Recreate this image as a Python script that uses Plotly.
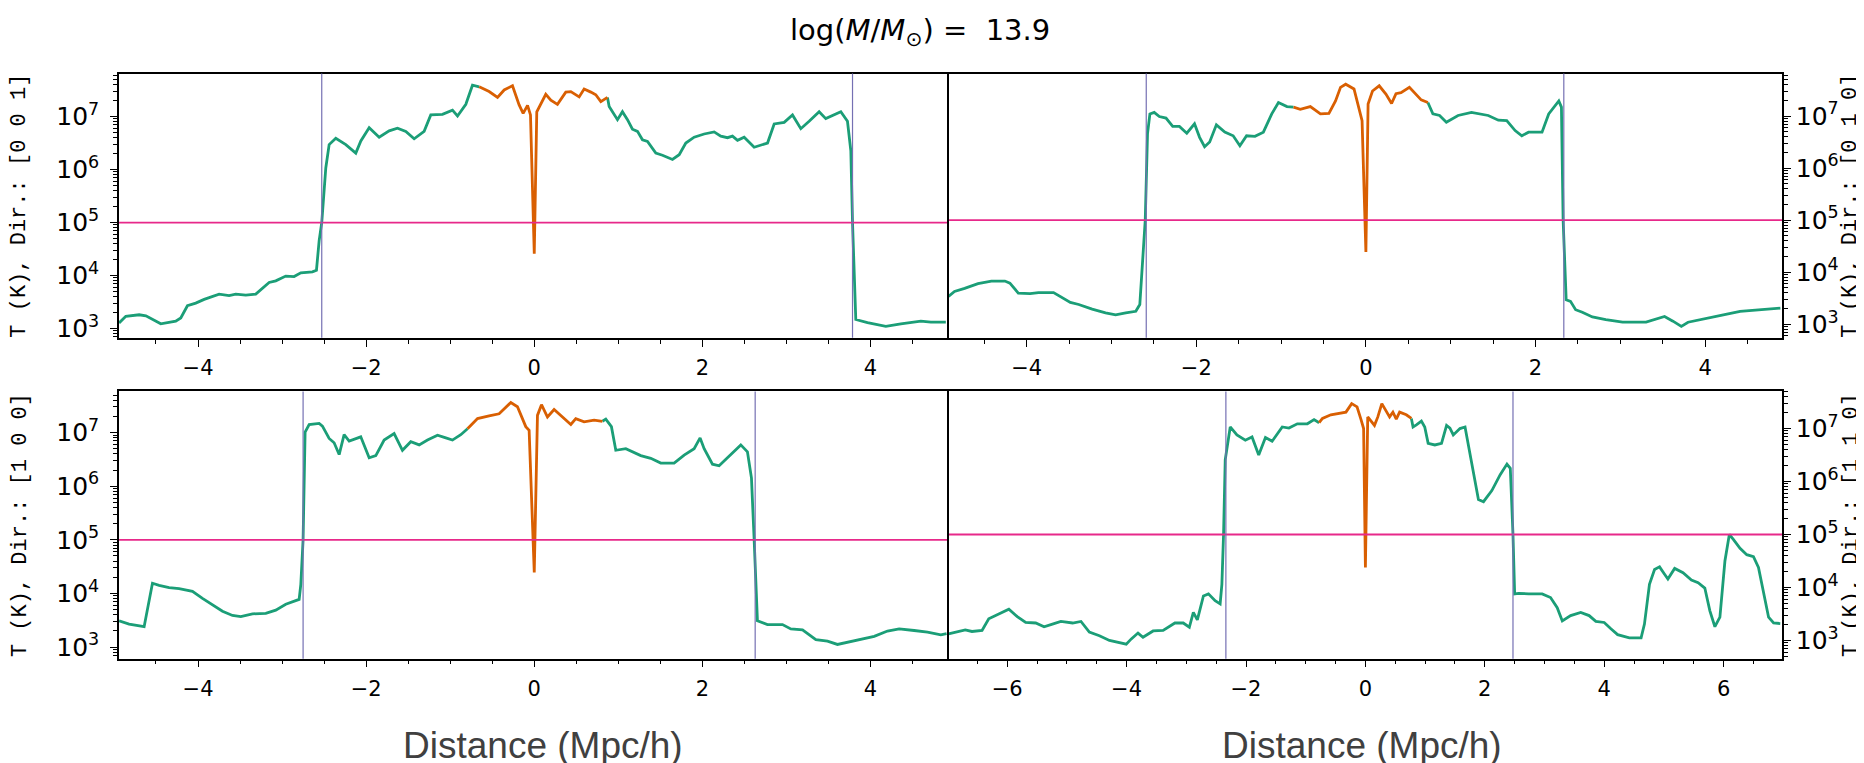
import plotly.graph_objects as go

# --- temperature profiles, log10(T / K) vs distance (Mpc/h) ---
# direction [0 0 1]
x001 = [-4.939, -4.859, -4.70, -4.62, -4.443, -4.344, -4.265, -4.205, -4.126, -4.027,
        -3.927, -3.749, -3.630, -3.551, -3.432, -3.313, -3.154, -3.075, -2.956, -2.857,
        -2.777, -2.639, -2.591, -2.559, -2.528, -2.480, -2.440, -2.361, -2.242, -2.123,
        -2.063, -1.964, -1.845, -1.726, -1.627, -1.528, -1.429, -1.310, -1.231, -1.092,
        -0.973, -0.913, -0.814, -0.735, -0.655, -0.537, -0.437, -0.358, -0.259, -0.180,
        -0.132, -0.080, -0.045, 0.0, 0.03, 0.137, 0.197, 0.276, 0.375, 0.435,
        0.534, 0.593, 0.673, 0.732, 0.792, 0.871, 0.891, 0.990, 1.049, 1.109,
        1.168, 1.228, 1.287, 1.347, 1.446, 1.525, 1.644, 1.724, 1.803, 1.902,
        2.021, 2.140, 2.219, 2.299, 2.358, 2.418, 2.497, 2.616, 2.695, 2.775,
        2.854, 2.973, 3.072, 3.171, 3.270, 3.389, 3.468, 3.568, 3.647, 3.726,
        3.766, 3.786, 3.825, 3.964, 4.182, 4.361, 4.599, 4.718, 4.896]
logT001 = [3.105, 3.23, 3.26, 3.24, 3.09, 3.12, 3.14, 3.20, 3.43, 3.48,
           3.55, 3.65, 3.62, 3.65, 3.63, 3.65, 3.87, 3.90, 3.99, 3.98,
           4.05, 4.07, 4.10, 4.66, 5.0, 6.03, 6.47, 6.59, 6.47, 6.31,
           6.54, 6.79, 6.61, 6.73, 6.78, 6.72, 6.58, 6.72, 7.03, 7.04,
           7.12, 7.01, 7.23, 7.59, 7.56, 7.47, 7.36, 7.50, 7.58, 7.22,
           7.06, 7.21, 7.03, 4.41, 7.09, 7.42, 7.31, 7.23, 7.46, 7.47,
           7.37, 7.52, 7.46, 7.41, 7.28, 7.36, 7.19, 6.94, 7.09, 6.94,
           6.76, 6.72, 6.56, 6.53, 6.31, 6.27, 6.19, 6.28, 6.50, 6.61,
           6.67, 6.71, 6.63, 6.60, 6.63, 6.55, 6.61, 6.42, 6.46, 6.50,
           6.86, 6.89, 7.03, 6.77, 6.91, 7.09, 6.96, 7.03, 7.09, 6.91,
           6.35, 5.0, 3.17, 3.11, 3.04, 3.09, 3.14, 3.12, 3.12]
core001 = (-0.70, 0.88)
shock001 = [-2.528, 3.786]

# direction [0 1 0]
x010 = [-4.922, -4.851, -4.732, -4.574, -4.416, -4.257, -4.198, -4.099, -3.960, -3.861,
        -3.683, -3.604, -3.485, -3.386, -3.228, -3.070, -2.951, -2.832, -2.713, -2.666,
        -2.634, -2.602, -2.575, -2.547, -2.496, -2.436, -2.357, -2.278, -2.199, -2.112,
        -2.021, -1.961, -1.902, -1.842, -1.763, -1.664, -1.565, -1.486, -1.407, -1.308,
        -1.209, -1.110, -1.031, -0.931, -0.853, -0.774, -0.655, -0.536, -0.436, -0.358,
        -0.299, -0.238, -0.140, -0.081, -0.045, 0.0, 0.026, 0.078, 0.157, 0.236,
        0.303, 0.355, 0.414, 0.513, 0.572, 0.652, 0.731, 0.790, 0.869, 0.949,
        1.087, 1.245, 1.443, 1.562, 1.661, 1.760, 1.839, 1.918, 2.077, 2.156,
        2.275, 2.306, 2.326, 2.362, 2.413, 2.473, 2.552, 2.671, 2.829, 3.027,
        3.304, 3.423, 3.522, 3.621, 3.720, 3.799, 4.017, 4.215, 4.413, 4.690,
        4.888]
logT010 = [3.535, 3.63, 3.69, 3.78, 3.83, 3.83, 3.79, 3.60, 3.59, 3.61,
           3.61, 3.53, 3.42, 3.38, 3.29, 3.22, 3.18, 3.22, 3.25, 3.38,
           4.11, 5.0, 6.66, 7.04, 7.07, 6.99, 6.96, 6.80, 6.80, 6.67,
           6.85, 6.59, 6.41, 6.50, 6.83, 6.69, 6.62, 6.43, 6.62, 6.61,
           6.69, 7.04, 7.26, 7.18, 7.17, 7.13, 7.18, 7.04, 7.05, 7.29,
           7.55, 7.61, 7.52, 7.17, 6.91, 4.39, 7.23, 7.48, 7.58, 7.42,
           7.24, 7.43, 7.45, 7.55, 7.45, 7.31, 7.26, 7.04, 7.01, 6.88,
           7.01, 7.07, 7.01, 6.92, 6.91, 6.72, 6.62, 6.69, 6.69, 7.04,
           7.29, 7.17, 5.0, 3.47, 3.44, 3.28, 3.23, 3.14, 3.09, 3.04,
           3.04, 3.10, 3.15, 3.06, 2.96, 3.04, 3.12, 3.18, 3.25, 3.28,
           3.31]
core010 = (-0.86, 0.75)
shock010 = [-2.590, 2.334]

# direction [1 0 0]
x100 = [-4.939, -4.820, -4.641, -4.602, -4.542, -4.463, -4.344, -4.225, -4.066, -3.947,
        -3.828, -3.709, -3.590, -3.491, -3.352, -3.194, -3.075, -2.956, -2.797, -2.777,
        -2.750, -2.726, -2.678, -2.559, -2.520, -2.440, -2.381, -2.321, -2.262, -2.202,
        -2.064, -1.964, -1.885, -1.786, -1.667, -1.568, -1.469, -1.369, -1.270, -1.151,
        -1.052, -0.973, -0.874, -0.794, -0.675, -0.537, -0.418, -0.279, -0.200, -0.101,
        -0.061, 0.0, 0.038, 0.086, 0.157, 0.236, 0.336, 0.435, 0.494, 0.593,
        0.712, 0.811, 0.851, 0.918, 0.970, 1.089, 1.267, 1.386, 1.505, 1.664,
        1.783, 1.902, 1.973, 2.021, 2.120, 2.199, 2.299, 2.457, 2.536, 2.584,
        2.616, 2.655, 2.774, 2.953, 3.052, 3.191, 3.350, 3.488, 3.607, 3.726,
        3.885, 4.044, 4.202, 4.341, 4.519, 4.678, 4.837, 4.905]
logT100 = [3.49, 3.43, 3.38, 3.68, 4.19, 4.15, 4.11, 4.09, 4.04, 3.91,
           3.79, 3.67, 3.59, 3.57, 3.62, 3.63, 3.69, 3.80, 3.89, 4.17,
           5.0, 7.01, 7.15, 7.17, 7.12, 6.89, 6.81, 6.59, 6.96, 6.84,
           6.92, 6.53, 6.57, 6.86, 6.98, 6.67, 6.83, 6.77, 6.86, 6.95,
           6.90, 6.86, 6.96, 7.07, 7.26, 7.31, 7.35, 7.56, 7.48, 7.11,
           7.04, 4.39, 7.32, 7.52, 7.29, 7.43, 7.29, 7.15, 7.26, 7.20,
           7.23, 7.21, 7.25, 7.11, 6.67, 6.70, 6.57, 6.52, 6.43, 6.43,
           6.58, 6.70, 6.90, 6.70, 6.41, 6.38, 6.53, 6.77, 6.64, 6.15,
           5.0, 3.49, 3.42, 3.42, 3.34, 3.32, 3.14, 3.11, 3.05, 3.09,
           3.15, 3.20, 3.30, 3.34, 3.31, 3.28, 3.23, 3.25]
core100 = (-0.80, 0.82)
shock100 = [-2.750, 2.628]

# direction [1 1 0]
x110 = [-6.983, -6.871, -6.702, -6.590, -6.421, -6.309, -6.140, -5.972, -5.831, -5.691,
        -5.522, -5.382, -5.242, -5.101, -4.904, -4.764, -4.624, -4.455, -4.287, -4.118,
        -4.006, -3.921, -3.809, -3.725, -3.556, -3.388, -3.191, -3.051, -2.949, -2.882,
        -2.815, -2.713, -2.629, -2.517, -2.433, -2.404, -2.376, -2.348, -2.264, -2.152,
        -2.011, -1.899, -1.787, -1.674, -1.562, -1.393, -1.281, -1.140, -0.972, -0.860,
        -0.775, -0.719, -0.579, -0.410, -0.326, -0.230, -0.140, -0.073, -0.030, 0.0,
        0.039, 0.152, 0.208, 0.275, 0.348, 0.405, 0.461, 0.517, 0.573, 0.685,
        0.770, 0.798, 0.854, 0.938, 0.994, 1.051, 1.163, 1.275, 1.360, 1.416,
        1.472, 1.584, 1.669, 1.781, 1.893, 1.978, 2.118, 2.258, 2.371, 2.427,
        2.455, 2.472, 2.500, 2.567, 2.736, 2.961, 3.101, 3.213, 3.298, 3.438,
        3.607, 3.747, 3.860, 4.000, 4.112, 4.225, 4.421, 4.618, 4.674, 4.758,
        4.843, 4.927, 5.011, 5.067, 5.180, 5.320, 5.461, 5.573, 5.685, 5.770,
        5.854, 5.938, 6.022, 6.096, 6.163, 6.275, 6.388, 6.500, 6.584, 6.669,
        6.753, 6.837, 6.949]
logT110 = [3.125, 3.16, 3.20, 3.17, 3.19, 3.41, 3.50, 3.59, 3.45, 3.34,
           3.33, 3.26, 3.31, 3.36, 3.33, 3.36, 3.16, 3.09, 3.00, 2.95,
           2.93, 3.03, 3.14, 3.06, 3.18, 3.19, 3.33, 3.33, 3.25, 3.53,
           3.39, 3.84, 3.88, 3.75, 3.69, 4.06, 5.0, 6.41, 7.03, 6.88,
           6.78, 6.84, 6.50, 6.83, 6.76, 7.03, 7.01, 7.09, 7.09, 7.17,
           7.11, 7.19, 7.26, 7.30, 7.31, 7.47, 7.41, 7.17, 7.00, 4.38,
           7.22, 7.06, 7.22, 7.47, 7.34, 7.22, 7.31, 7.18, 7.31, 7.26,
           7.19, 7.03, 7.07, 7.14, 7.03, 6.72, 6.69, 6.72, 7.06, 7.01,
           6.88, 7.00, 7.03, 6.31, 5.66, 5.62, 5.83, 6.13, 6.33, 6.25,
           5.62, 5.0, 3.88, 3.89, 3.88, 3.88, 3.81, 3.62, 3.37, 3.47,
           3.53, 3.47, 3.36, 3.34, 3.22, 3.11, 3.05, 3.05, 3.31, 4.06,
           4.34, 4.39, 4.25, 4.16, 4.36, 4.28, 4.14, 4.09, 3.99, 3.56,
           3.26, 3.44, 4.50, 5.00, 4.91, 4.74, 4.62, 4.58, 4.38, 3.94,
           3.44, 3.33, 3.32]
core110 = (-0.78, 0.78)
shock110 = [-2.337, 2.472]

T_threshold = 1e5
title_text = "log(<i>M</i>/<i>M</i><sub>⊙</sub>) =  13.9"

GREEN, ORANGE, PURPLE, PINK = "#1b9e77", "#d95f02", "#7570b3", "#e7298a"
W, H = 1864, 763


def split_core(x, logt, lo, hi):
    """green outside the core, orange inside; segments share the joining point"""
    idx = [i for i, v in enumerate(x) if lo <= v <= hi]
    i0, i1 = idx[0], idx[-1]
    T = [10 ** v for v in logt]
    return ((x[:i0 + 1], T[:i0 + 1]),
            (x[i0:i1 + 1], T[i0:i1 + 1]),
            (x[i1:], T[i1:]))


# pixel boxes of the four panels -> paper domains
# (right panels start 1.5px later so both spines at the seam overlap)
left_dom = [111 / W, 939 / W]
right_dom = [940.5 / W, 1774 / W]
top_dom = [1 - 332 / H, 1 - 66 / H]
bot_dom = [1 - 655 / H, 1 - 386 / H]

panels = [
    ("[0 0 1]", x001, logT001, core001, shock001, left_dom, top_dom, "left", [-4.94, 4.91], [2.825, 7.81]),
    ("[0 1 0]", x010, logT010, core010, shock010, right_dom, top_dom, "right", [-4.922, 4.907], [2.74, 7.815]),
    ("[1 0 0]", x100, logT100, core100, shock100, left_dom, bot_dom, "left", [-4.94, 4.91], [2.784, 7.766]),
    ("[1 1 0]", x110, logT110, core110, shock110, right_dom, bot_dom, "right", [-6.983, 6.978], [2.656, 7.70]),
]

xtickfont = dict(family="DejaVu Sans", size=21, color="black")
ytickfont = dict(family="DejaVu Sans", size=20, color="black")

fig = go.Figure()
annotations = []
shapes = []

for n, (direction, xs, lts, core, shocks, xdom, ydom, side, xr, yr) in enumerate(panels, start=1):
    sfx = "" if n == 1 else str(n)
    xa, ya = "x" + sfx, "y" + sfx

    left, mid, right = split_core(xs, lts, *core)
    for (sx, sy), col in [(left, GREEN), (right, GREEN), (mid, ORANGE)]:
        fig.add_trace(go.Scatter(x=sx, y=sy, mode="lines", xaxis=xa, yaxis=ya,
                                 line=dict(color=col, width=2.8), showlegend=False,
                                 hoverinfo="skip"))

    # 1e5 K threshold across the whole panel
    fig.add_trace(go.Scatter(x=xr, y=[T_threshold, T_threshold], mode="lines",
                             xaxis=xa, yaxis=ya, line=dict(color=PINK, width=1.8),
                             showlegend=False, hoverinfo="skip", cliponaxis=False))

    for s in shocks:
        shapes.append(dict(type="line", xref=xa, yref=ya + " domain", x0=s, x1=s, y0=0, y1=1,
                           line=dict(color=PURPLE, width=1.2), layer="above"))

    fig.update_layout({
        "xaxis" + sfx: dict(domain=xdom, anchor=ya, range=xr, dtick=2, tick0=0,
                            showline=True, linecolor="black", linewidth=1.5, mirror=True,
                            ticks="outside", ticklen=7, tickwidth=1.3, tickcolor="black",
                            ticklabelstandoff=3,
                            showgrid=False, zeroline=False, tickfont=xtickfont,
                            minor=dict(ticks="outside", ticklen=4, tickwidth=1, tickcolor="black",
                                       dtick=0.5, tick0=0, showgrid=False)),
        "yaxis" + sfx: dict(domain=ydom, anchor=xa, type="log", range=yr, side=side, dtick=1,
                            exponentformat="power", showline=True, linecolor="black",
                            linewidth=1.5, mirror=True, ticks="outside", ticklen=7,
                            tickwidth=1.3, tickcolor="black",
                            ticklabelstandoff=7 if side == "left" else 1,
                            showgrid=False, zeroline=False, tickfont=ytickfont,
                            minor=dict(ticks="outside", ticklen=4, tickwidth=1,
                                       tickcolor="black", dtick="D1", showgrid=False)),
    })

    # rotated annotations land right of their anchor, so aim a bit left
    annotations.append(dict(text=f"T (K), Dir.: {direction}", xref="paper", yref="paper",
                            x=(12 if side == "left" else 1843) / W, y=sum(ydom) / 2,
                            textangle=-90, showarrow=False, xanchor="center", yanchor="middle",
                            font=dict(family="Liberation Mono", size=22, color="black")))

annotations.append(dict(text=title_text, xref="paper", yref="paper", x=912 / W, y=1 - 24 / H,
                        showarrow=False, xanchor="center", yanchor="middle",
                        font=dict(family="DejaVu Sans", size=29, color="black")))
for cx in (535, 1354):
    annotations.append(dict(text="Distance (Mpc/h)", xref="paper", yref="paper",
                            x=cx / W, y=1 - 742 / H, showarrow=False,
                            xanchor="center", yanchor="middle",
                            font=dict(family="Liberation Sans", size=37, color="#404040")))

fig.update_layout(width=W, height=H, margin=dict(l=0, r=0, t=0, b=0),
                  paper_bgcolor="white", plot_bgcolor="white",
                  shapes=shapes, annotations=annotations, showlegend=False)

fig.write_html("out.html")
